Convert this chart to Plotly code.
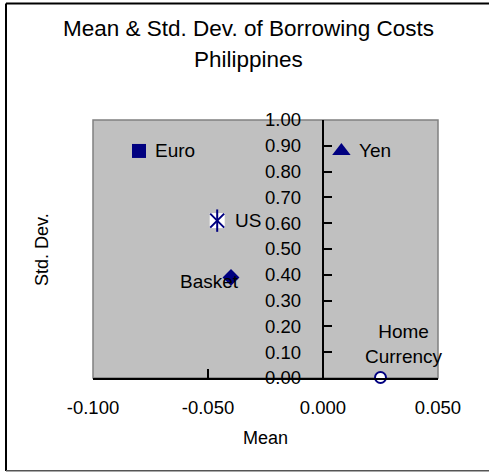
import plotly.graph_objects as go

# Borrowing cost statistics by currency of denomination
currencies = ["Euro", "US", "Basket", "Yen", "Home Currency"]
mean_cost = [-0.080, -0.046, -0.040, 0.008, 0.025]
std_cost = [0.88, 0.61, 0.39, 0.88, 0.002]

x_ticks = [-0.100, -0.050, 0.000, 0.050]
x_tick_text = ["-0.100", "-0.050", "0.000", "0.050"]
y_ticks = [0.0, 0.1, 0.2, 0.3, 0.4, 0.5, 0.6, 0.7, 0.8, 0.9, 1.0]

W, H = 489, 472
ML, MR, MT, MB = 93, 51, 120, 94
PW, PH = W - ML - MR, H - MT - MB
NAVY = "#000080"
FONT = "Liberation Sans, Arial, sans-serif"
X_RANGE = [-0.100, 0.050]


def px_x(p):
    return (p - ML) / PW


def px_y(p):
    return (H - MB - p) / PH


# marker style per currency
styles = {
    "Euro": dict(symbol="square", size=14, color=NAVY, line=dict(width=0)),
    "Basket": dict(symbol="diamond", size=13, color=NAVY, line=dict(width=0)),
    "Yen": dict(symbol="triangle-up", size=16, color=NAVY, line=dict(width=0)),
    "Home Currency": dict(symbol="circle", size=11, color="white",
                          line=dict(color=NAVY, width=2)),
}

fig = go.Figure()

for name, mx, sy in zip(currencies, mean_cost, std_cost):
    if name == "US":
        # star marker: white box with an x and a vertical stroke
        fig.add_trace(go.Scatter(x=[mx], y=[sy], mode="markers", cliponaxis=False,
                                 marker=dict(symbol="square", size=15, color="white",
                                             line=dict(width=0)),
                                 hoverinfo="skip"))
        fig.add_trace(go.Scatter(x=[mx], y=[sy], mode="markers", cliponaxis=False,
                                 marker=dict(symbol="x-thin-open", size=14, color=NAVY,
                                             line=dict(color=NAVY, width=2)),
                                 name=name))
        fig.add_trace(go.Scatter(x=[mx], y=[sy], mode="markers", cliponaxis=False,
                                 marker=dict(symbol="line-ns-open", size=16, color=NAVY,
                                             line=dict(color=NAVY, width=2)),
                                 hoverinfo="skip"))
    else:
        fig.add_trace(go.Scatter(x=[mx], y=[sy], mode="markers", cliponaxis=False,
                                 marker=styles[name], name=name))

# an invisible trace carries the tick-label axis
fig.add_trace(go.Scatter(x=[None], y=[None], yaxis="y2", showlegend=False,
                         hoverinfo="skip"))

# label placement relative to each marker (pixels)
label_pos = {
    "Euro": dict(xanchor="left", yanchor="middle", xshift=14, yshift=0),
    "US": dict(xanchor="left", yanchor="middle", xshift=16, yshift=0),
    "Basket": dict(xanchor="right", yanchor="middle", xshift=10, yshift=-4),
    "Yen": dict(xanchor="left", yanchor="middle", xshift=16, yshift=0),
    "Home Currency": dict(xanchor="center", yanchor="middle", xshift=23, yshift=33),
}

annotations = []
for name, mx, sy in zip(currencies, mean_cost, std_cost):
    text = "Home<br>Currency" if name == "Home Currency" else name
    annotations.append(dict(x=mx, y=sy, xref="x", yref="y", text=text,
                            showarrow=False, font=dict(size=19, color="black"),
                            **label_pos[name]))

# titles
annotations += [
    dict(x=px_x(248), y=px_y(28), xref="paper", yref="paper",
         text="Mean & Std. Dev. of Borrowing Costs", showarrow=False,
         xanchor="center", yanchor="middle", font=dict(size=22.5, color="black")),
    dict(x=px_x(248), y=px_y(59), xref="paper", yref="paper",
         text="Philippines", showarrow=False,
         xanchor="center", yanchor="middle", font=dict(size=22.5, color="black")),
    dict(x=px_x(265), y=px_y(438), xref="paper", yref="paper",
         text="Mean", showarrow=False,
         xanchor="center", yanchor="middle", font=dict(size=18, color="black")),
    dict(x=px_x(42), y=px_y(250), xref="paper", yref="paper",
         text="Std. Dev.", showarrow=False, textangle=-90,
         xanchor="center", yanchor="middle", font=dict(size=18, color="black")),
]

shapes = [
    # plot area outline
    dict(type="rect", xref="paper", yref="paper", x0=0, x1=1, y0=0, y1=1,
         line=dict(color="#808080", width=1.5), layer="below"),
    # chart frame
    dict(type="line", xref="paper", yref="paper", x0=px_x(6), x1=px_x(6),
         y0=px_y(3.5), y1=px_y(471), line=dict(color="black", width=2)),
    dict(type="line", xref="paper", yref="paper", x0=px_x(6), x1=px_x(495),
         y0=px_y(3.5), y1=px_y(3.5), line=dict(color="black", width=2)),
    dict(type="line", xref="paper", yref="paper", x0=px_x(6), x1=px_x(495),
         y0=px_y(470.7), y1=px_y(470.7), line=dict(color="#555555", width=1.5)),
]

# the value axis crosses the mean axis at zero
y_cross = (0.0 - X_RANGE[0]) / (X_RANGE[1] - X_RANGE[0])

fig.update_layout(
    width=W, height=H,
    margin=dict(l=ML, r=MR, t=MT, b=MB, pad=0),
    paper_bgcolor="white",
    plot_bgcolor="#C0C0C0",
    showlegend=False,
    font=dict(family=FONT, color="black"),
    annotations=annotations,
    shapes=shapes,
    xaxis=dict(range=X_RANGE, tickvals=x_ticks, ticktext=x_tick_text,
               ticks="inside", ticklen=9, tickwidth=1.5, tickcolor="black",
               showline=True, linecolor="black", linewidth=2,
               showgrid=False, zeroline=False, anchor="y",
               tickfont=dict(size=18.5), ticklabelstandoff=12),
    yaxis=dict(range=[0, 1.0], tickvals=y_ticks, showticklabels=False,
               ticks="inside", ticklen=8, tickwidth=1.5, tickcolor="black",
               showline=True, linecolor="black", linewidth=2,
               showgrid=False, zeroline=False,
               anchor="free", position=y_cross),
    yaxis2=dict(range=[0, 1.0], tickvals=y_ticks, tickformat=".2f",
                overlaying="y", anchor="free", position=y_cross - 22 / PW,
                showline=False, ticks="", showgrid=False, zeroline=False,
                tickfont=dict(size=18.5)),
)

fig.write_html("out.html")
